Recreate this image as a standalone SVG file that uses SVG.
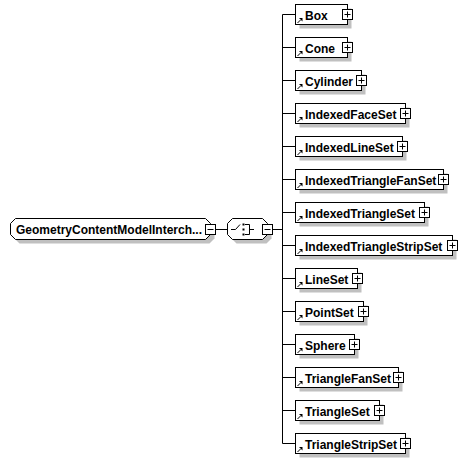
<svg xmlns="http://www.w3.org/2000/svg" xmlns:xlink="http://www.w3.org/1999/xlink" width="468" height="464" viewBox="0 0 468 464">
<style>
.bx{fill:#fff;stroke:#000;stroke-width:1}
.sh{fill:#c0c0c0;stroke:none}
.ln{fill:none;stroke:#000;stroke-width:1}
.t{font-family:"Liberation Sans",Arial,sans-serif;font-size:12px;font-weight:bold;fill:#000}
</style>
<defs>
<g id="plus"><rect x="-5" y="-5" width="10" height="10" class="bx"/><path d="M-3,0H3M0,-3V3" class="ln"/></g>
<g id="minus"><rect x="-5" y="-5" width="10" height="10" class="bx"/><path d="M-3,0H3" class="ln"/></g>
<g id="lnk"><path d="M297.5,8.5L300.5,5.5" class="ln"/><polygon points="299,3.5 302.5,3.5 302.5,7" fill="#000"/></g>
</defs>
<rect width="468" height="464" fill="#fff"/>
<g id="connectors">
<path class="ln" d="M215.5,229.5H227.5M272.5,229.5H282.5M282.5,14.5V443.5M282.5,14.5H295.5M282.5,47.5H295.5M282.5,80.5H295.5M282.5,113.5H295.5M282.5,146.5H295.5M282.5,179.5H295.5M282.5,212.5H295.5M282.5,245.5H295.5M282.5,278.5H295.5M282.5,311.5H295.5M282.5,344.5H295.5M282.5,377.5H295.5M282.5,410.5H295.5M282.5,443.5H295.5"/>
</g>
<g id="root">
<polygon class="sh" points="19.5,222.5 209.5,222.5 214.5,227.5 214.5,238.5 209.5,243.5 19.5,243.5 14.5,238.5 14.5,227.5"/>
<polygon class="bx" points="15.5,218.5 205.5,218.5 210.5,223.5 210.5,234.5 205.5,239.5 15.5,239.5 10.5,234.5 10.5,223.5"/>
<text class="t" x="16" y="234">GeometryContentModelInterch...</text>
<use href="#minus" x="210.5" y="229.5"/>
</g>
<g id="choice">
<polygon class="sh" points="236.5,222.5 266.5,222.5 271.5,227.5 271.5,238.5 266.5,243.5 236.5,243.5 231.5,238.5 231.5,227.5"/>
<polygon class="bx" points="232.5,218.5 262.5,218.5 267.5,223.5 267.5,234.5 262.5,239.5 232.5,239.5 227.5,234.5 227.5,223.5"/>
<path class="ln" d="M231,229.5H235.5L240,224.5M245,224.5H249.5V234.5H245M249.5,229.5H254"/>
<rect x="242.5" y="223.5" width="2" height="2" fill="#000"/>
<rect x="242.5" y="228.5" width="2" height="2" fill="#000"/>
<rect x="242.5" y="233.5" width="2" height="2" fill="#000"/>
<use href="#minus" x="267.5" y="229.5"/>
</g>
<g id="Box"><rect class="sh" x="299.5" y="8.5" width="52" height="20"/><rect class="bx" x="295.5" y="4.5" width="52" height="20"/><use href="#lnk" y="14.5"/><text class="t" x="305" y="20">Box</text><use href="#plus" x="347.5" y="14.5"/></g>
<g id="Cone"><rect class="sh" x="299.5" y="41.5" width="52" height="20"/><rect class="bx" x="295.5" y="37.5" width="52" height="20"/><use href="#lnk" y="47.5"/><text class="t" x="305" y="53">Cone</text><use href="#plus" x="347.5" y="47.5"/></g>
<g id="Cylinder"><rect class="sh" x="299.5" y="74.5" width="66" height="20"/><rect class="bx" x="295.5" y="70.5" width="66" height="20"/><use href="#lnk" y="80.5"/><text class="t" x="305" y="86">Cylinder</text><use href="#plus" x="361.5" y="80.5"/></g>
<g id="IndexedFaceSet"><rect class="sh" x="299.5" y="107.5" width="110" height="20"/><rect class="bx" x="295.5" y="103.5" width="110" height="20"/><use href="#lnk" y="113.5"/><text class="t" x="305" y="119">IndexedFaceSet</text><use href="#plus" x="405.5" y="113.5"/></g>
<g id="IndexedLineSet"><rect class="sh" x="299.5" y="140.5" width="107" height="20"/><rect class="bx" x="295.5" y="136.5" width="107" height="20"/><use href="#lnk" y="146.5"/><text class="t" x="305" y="152">IndexedLineSet</text><use href="#plus" x="402.5" y="146.5"/></g>
<g id="IndexedTriangleFanSet"><rect class="sh" x="299.5" y="173.5" width="148" height="20"/><rect class="bx" x="295.5" y="169.5" width="148" height="20"/><use href="#lnk" y="179.5"/><text class="t" x="305" y="185">IndexedTriangleFanSet</text><use href="#plus" x="443.5" y="179.5"/></g>
<g id="IndexedTriangleSet"><rect class="sh" x="299.5" y="206.5" width="129" height="20"/><rect class="bx" x="295.5" y="202.5" width="129" height="20"/><use href="#lnk" y="212.5"/><text class="t" x="305" y="218">IndexedTriangleSet</text><use href="#plus" x="424.5" y="212.5"/></g>
<g id="IndexedTriangleStripSet"><rect class="sh" x="299.5" y="239.5" width="157" height="20"/><rect class="bx" x="295.5" y="235.5" width="157" height="20"/><use href="#lnk" y="245.5"/><text class="t" x="305" y="251">IndexedTriangleStripSet</text><use href="#plus" x="452.5" y="245.5"/></g>
<g id="LineSet"><rect class="sh" x="299.5" y="272.5" width="62" height="20"/><rect class="bx" x="295.5" y="268.5" width="62" height="20"/><use href="#lnk" y="278.5"/><text class="t" x="305" y="284">LineSet</text><use href="#plus" x="357.5" y="278.5"/></g>
<g id="PointSet"><rect class="sh" x="299.5" y="305.5" width="68" height="20"/><rect class="bx" x="295.5" y="301.5" width="68" height="20"/><use href="#lnk" y="311.5"/><text class="t" x="305" y="317">PointSet</text><use href="#plus" x="363.5" y="311.5"/></g>
<g id="Sphere"><rect class="sh" x="299.5" y="338.5" width="59" height="20"/><rect class="bx" x="295.5" y="334.5" width="59" height="20"/><use href="#lnk" y="344.5"/><text class="t" x="305" y="350">Sphere</text><use href="#plus" x="354.5" y="344.5"/></g>
<g id="TriangleFanSet"><rect class="sh" x="299.5" y="371.5" width="103" height="20"/><rect class="bx" x="295.5" y="367.5" width="103" height="20"/><use href="#lnk" y="377.5"/><text class="t" x="305" y="383">TriangleFanSet</text><use href="#plus" x="398.5" y="377.5"/></g>
<g id="TriangleSet"><rect class="sh" x="299.5" y="404.5" width="84" height="20"/><rect class="bx" x="295.5" y="400.5" width="84" height="20"/><use href="#lnk" y="410.5"/><text class="t" x="305" y="416">TriangleSet</text><use href="#plus" x="379.5" y="410.5"/></g>
<g id="TriangleStripSet"><rect class="sh" x="299.5" y="437.5" width="110" height="20"/><rect class="bx" x="295.5" y="433.5" width="110" height="20"/><use href="#lnk" y="443.5"/><text class="t" x="305" y="449">TriangleStripSet</text><use href="#plus" x="405.5" y="443.5"/></g>
</svg>
